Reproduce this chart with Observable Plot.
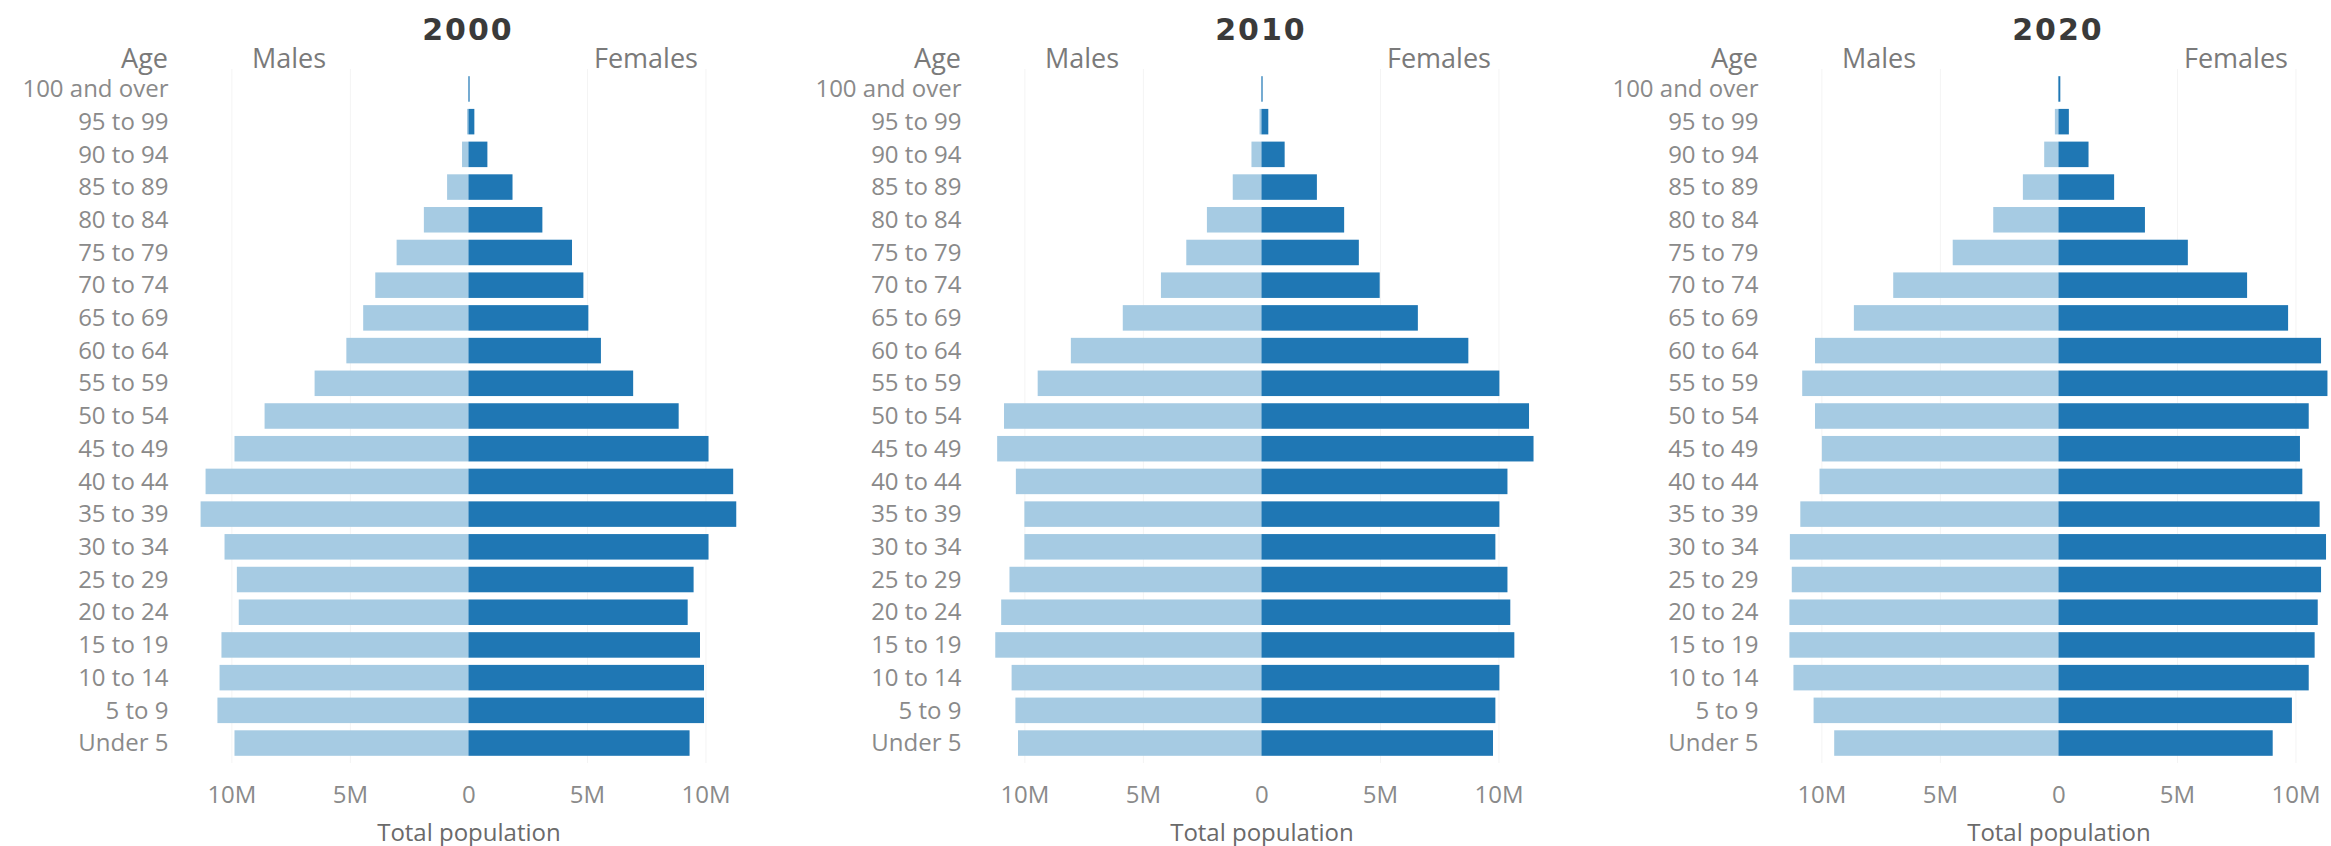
<!DOCTYPE html>
<html>
<head>
<meta charset="utf-8">
<script src="https://cdn.jsdelivr.net/npm/d3@7"></script>
<script src="https://cdn.jsdelivr.net/npm/@observablehq/plot@0.6"></script>
<style>
  html, body { margin: 0; padding: 0; background: #fff; width: 2331px; height: 846px; overflow: hidden; }
  #root { position: relative; width: 2331px; height: 846px; font-family: "Open Sans", sans-serif; }
  .panel { position: absolute; top: 0; height: 846px; }
  .panel svg { position: absolute; left: 0; top: 0; }
  .lbl { position: absolute; white-space: nowrap; line-height: 1; transform: translate(-50%, -50%); }
  .title { font-family: "DejaVu Sans", sans-serif; font-weight: 600; font-size: 30px; color: #3a3a3a; letter-spacing: 2px; }
  .head { font-size: 27px; color: #7a7a7a; }
  .age { transform: translate(-100%, -50%); }
</style>
</head>
<body>
<div id="root"></div>
<script>
// ---------- data (millions of people) ----------
const ages = ["100 and over", "95 to 99", "90 to 94", "85 to 89", "80 to 84", "75 to 79", "70 to 74",
  "65 to 69", "60 to 64", "55 to 59", "50 to 54", "45 to 49", "40 to 44", "35 to 39",
  "30 to 34", "25 to 29", "20 to 24", "15 to 19", "10 to 14", "5 to 9", "Under 5"];
const years = ["2000", "2010", "2020"];
const sexes = ["Males", "Females"];

const males2000   = [0.01, 0.06, 0.27, 0.90, 1.88, 3.03, 3.93, 4.44, 5.15, 6.49, 8.60, 9.87, 11.09, 11.30, 10.29, 9.77, 9.69, 10.42, 10.50, 10.59, 9.87];
const females2000 = [0.05, 0.25, 0.80, 1.86, 3.12, 4.37, 4.85, 5.06, 5.59, 6.95, 8.87, 10.13, 11.17, 11.30, 10.13, 9.50, 9.25, 9.77, 9.94, 9.94, 9.33];
const males2010   = [0.01, 0.08, 0.42, 1.21, 2.30, 3.17, 4.24, 5.85, 8.04, 9.44, 10.86, 11.15, 10.36, 10.00, 10.00, 10.63, 10.98, 11.23, 10.54, 10.38, 10.27];
const females2010 = [0.05, 0.29, 0.98, 2.34, 3.49, 4.11, 4.99, 6.60, 8.73, 10.04, 11.29, 11.48, 10.38, 10.04, 9.87, 10.38, 10.50, 10.67, 10.04, 9.87, 9.77];
const males2020   = [0.02, 0.15, 0.60, 1.50, 2.75, 4.46, 6.97, 8.63, 10.27, 10.81, 10.27, 9.98, 10.08, 10.89, 11.33, 11.25, 11.35, 11.35, 11.18, 10.33, 9.46];
const females2020 = [0.08, 0.44, 1.27, 2.35, 3.65, 5.46, 7.96, 9.69, 11.08, 11.35, 10.56, 10.19, 10.29, 11.02, 11.29, 11.08, 10.94, 10.81, 10.56, 9.85, 9.04];

const xTicks = [-10e6, -5e6, 0, 5e6, 10e6];
const xAxisLabel = "Total population";
const ageHeader = "Age";

const series = {
  "2000": [males2000, females2000],
  "2010": [males2010, females2010],
  "2020": [males2020, females2020]
};

// ---------- layout ----------
const panelLeft = [0, 793, 1590];
const zeroX = 468;        // zero line position inside a panel
const marginLeft = 184;
const W = 741, H = 846;
const males = "#a6cbe3", females = "#1f77b4";

const root = document.getElementById("root");

years.forEach((yr, i) => {
  const [m, f] = series[yr];
  const rows = [];
  ages.forEach((a, j) => {
    rows.push({age: a, sex: "Males", value: -m[j] * 1e6});
    rows.push({age: a, sex: "Females", value: f[j] * 1e6});
  });

  const chart = Plot.plot({
    width: W,
    height: H,
    marginLeft: marginLeft,
    marginRight: 0,
    marginTop: 69,
    marginBottom: 83,
    style: {fontFamily: "Open Sans, sans-serif", background: "transparent"},
    x: {domain: [-12e6, 11.5e6]},
    y: {domain: ages, padding: 0.22, round: false},
    color: {domain: sexes, range: [males, females]},
    marks: [
      Plot.gridX(xTicks.filter(d => d !== 0), {stroke: "#f4f4f4", strokeOpacity: 1}),
      Plot.barX(rows, {x: "value", y: "age", fill: "sex"}),
      Plot.axisY({tickSize: 0, tickPadding: 16, fontSize: 24, color: "#8a8a8a", label: null}),
      Plot.axisX(xTicks, {
        tickSize: 0, tickPadding: 22, fontSize: 24, color: "#8a8a8a",
        tickFormat: d => d === 0 ? "0" : Math.abs(d) / 1e6 + "M",
        label: null
      }),
      Plot.text([xAxisLabel], {x: 0, frameAnchor: "bottom", dy: 77, fontSize: 24, fill: "#6a6a6a", text: d => d})
    ]
  });

  const panel = document.createElement("div");
  panel.className = "panel";
  panel.style.left = panelLeft[i] + "px";
  panel.style.width = W + "px";
  panel.appendChild(chart);

  const addLbl = (txt, cls, x, y) => {
    const d = document.createElement("div");
    d.className = "lbl " + cls;
    d.textContent = txt;
    d.style.left = x + "px";
    d.style.top = y + "px";
    panel.appendChild(d);
  };
  addLbl(yr, "title", zeroX, 30);
  addLbl(ageHeader, "head age", 168, 57);
  addLbl(sexes[0], "head", 289, 57);
  addLbl(sexes[1], "head", 646, 57);

  root.appendChild(panel);
});
</script>
</body>
</html>
